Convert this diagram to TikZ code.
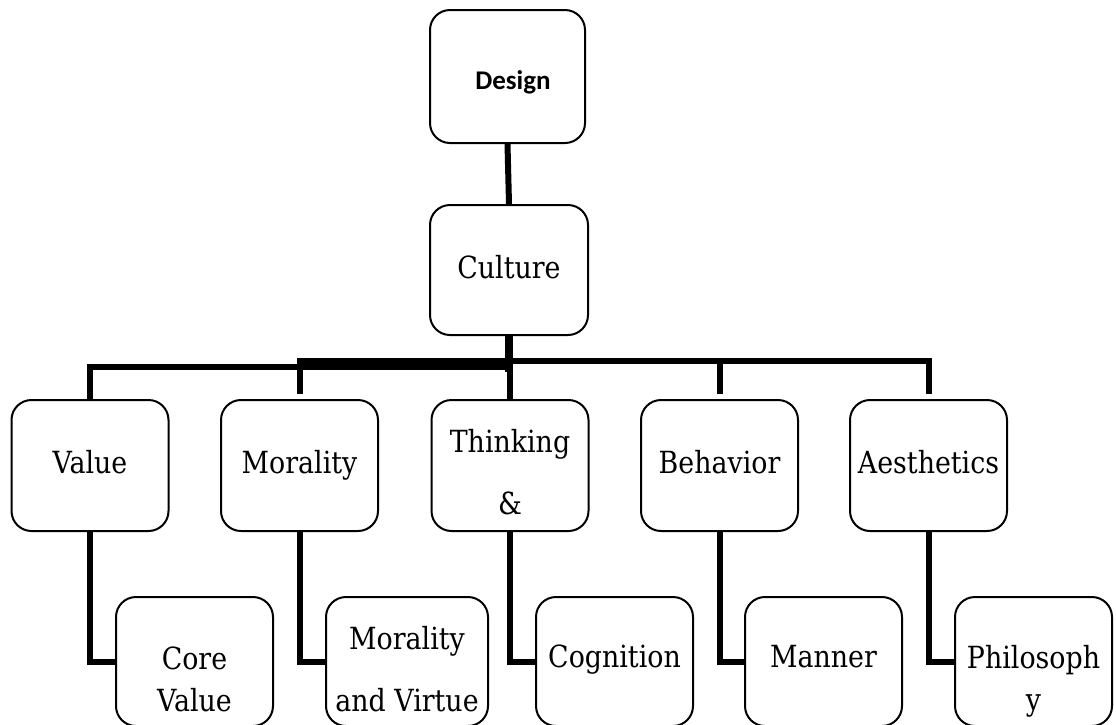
\documentclass[tikz,border=0pt]{standalone}
\usepackage{fontspec}
\setmainfont[FakeStretch=0.88]{DejaVu Serif}
\newfontfamily\headfont{Carlito}
\begin{document}
\begin{tikzpicture}[x=1pt,y=-1pt,
  box/.style={draw=black, line width=2pt, rounded corners=20pt, fill=white,
    inner sep=0pt, minimum width=#1, minimum height=131pt},
  box/.default=157pt,
  lowbox/.style={box=#1, minimum height=129pt},
  lowbox/.default=157pt,
  conn/.style={draw=black, line width=6pt, line join=miter},
  lbl/.style={inner sep=0pt, align=center, font=\fontsize{30.5}{42}\selectfont},
  wide/.style={font=\fontsize{30.5}{62}\selectfont}
]
\useasboundingbox (0,0) rectangle (1116,724);
\clip (0,0) rectangle (1116,724);

% top of the hierarchy
\node[box=155pt, minimum height=133pt] (design) at (507.5,76.5) {};
\node[box=158pt, minimum height=130pt] (culture) at (509,270) {};

% first level
\node[box] (value)      at (90,465.5)  {};
\node[box] (morality)   at (299.5,465.5) {};
\node[box] (thinking)   at (510,465.5) {};
\node[box] (behavior)   at (719.5,465.5) {};
\node[box] (aesthetics) at (928.5,465.5) {};

% second level (runs off the lower edge)
\node[lowbox] (core)       at (194.5,661.5) {};
\node[lowbox=162pt] (virtue) at (407,661.5) {};
\node[lowbox] (cognition)  at (614.5,661.5) {};
\node[lowbox] (manner)     at (823.5,661.5) {};
\node[lowbox] (philosophy) at (1033.5,661.5) {};

% labels
\node[inner sep=0pt, font=\headfont\bfseries\fontsize{27}{32}\selectfont] (tdesign) at (513,82) {Design};
\node[lbl] (tculture)    at (509,267) {Culture};
\node[lbl] (tvalue)      at (90,462) {Value};
\node[lbl] (tmorality)   at (299.5,465) {Morality};
\node[lbl, wide] (tthinking) at (510,472) {Thinking\\\&};
\node[lbl] (tbehavior)   at (719.5,462) {Behavior};
\node[lbl] (taesthetics) at (928.5,462) {Aesthetics};
\node[lbl] (tcore)       at (194.5,679) {Core\\Value};
\node[lbl, wide] (tvirtue) at (407,669) {Morality\\and Virtue};
\node[lbl] (tcognition)  at (614.5,660) {Cognition};
\node[lbl] (tmanner)     at (823.5,657) {Manner};
\node[lbl] (tphilosophy) at (1033.5,681) {Philosoph\\y};

% connectors
\draw[conn] (design.south) -- (culture.north);
\draw[conn, line width=8pt] (culture.south) -- ++(0,36);
\draw[conn] (value.north) -- ++(0,-32) -| (thinking.north);
\draw[conn] ([yshift=5pt]morality.north) -- ++(0,-33) -| ([yshift=5pt]aesthetics.north);
\draw[conn] ([yshift=5pt]behavior.north) -- ++(0,-33);

\draw[conn] (value.south) |- (core.west);
\draw[conn] (morality.south) |- (virtue.west);
\draw[conn] (thinking.south) |- (cognition.west);
\draw[conn] (behavior.south) |- (manner.west);
\draw[conn] (aesthetics.south) |- (philosophy.west);
\end{tikzpicture}
\end{document}
